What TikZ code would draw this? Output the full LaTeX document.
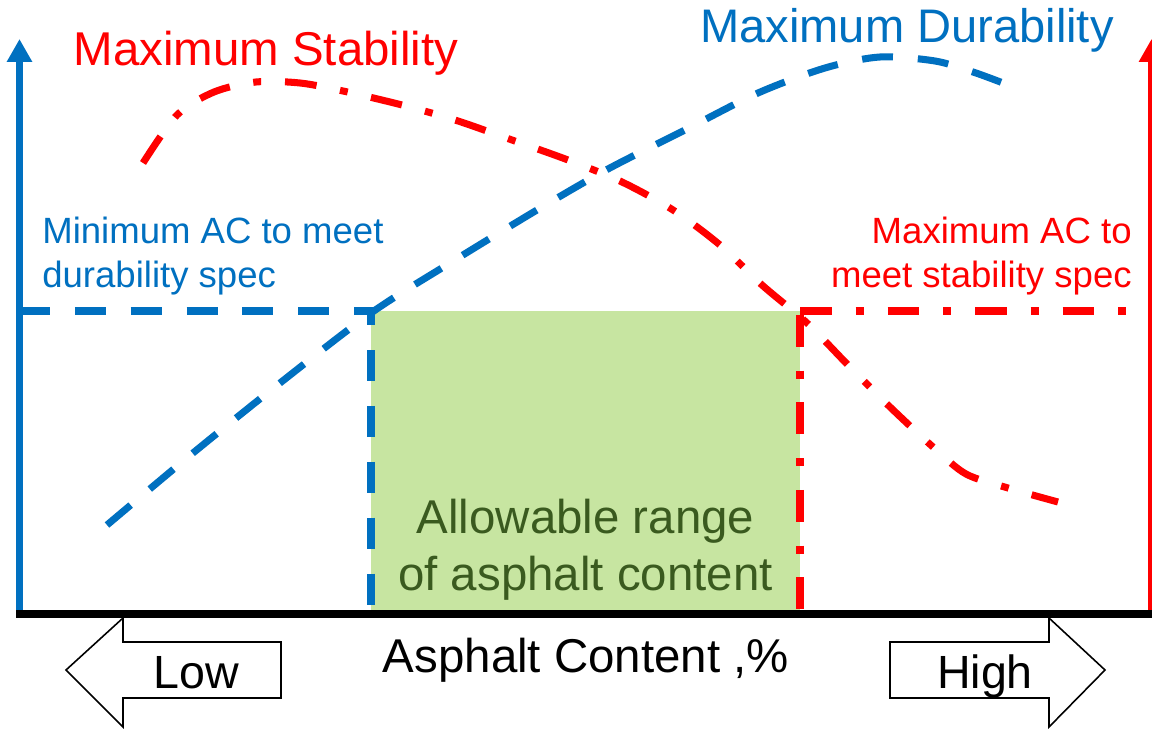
\documentclass[tikz,border=0pt]{standalone}
\usepackage{fontspec}
\setmainfont{Liberation Sans}
\usetikzlibrary{arrows.meta}
\definecolor{myblue}{HTML}{0070C0}
\definecolor{myred}{HTML}{FF0000}
\definecolor{rangefill}{HTML}{C7E5A1}
\definecolor{rangetext}{HTML}{3A5A1F}
\tikzset{
  bluedash/.style={draw=myblue, line width=4pt, dash pattern=on 17.6pt off 14.2pt},
  reddashdot/.style={draw=myred, line width=4pt, dash pattern=on 18.1pt off 13.6pt on 4.5pt off 13.6pt},
  axisline/.style={line width=4pt},
  bigtext/.style={inner sep=0pt, font=\fontsize{27}{32.3}\selectfont},
  smalltext/.style={inner sep=0pt, font=\fontsize{20.8}{25.5}\selectfont},
  boxarrow/.style={draw=black, line width=0.9pt, fill=white, line join=miter},
}
\begin{document}
\begin{tikzpicture}[x=0.02cm,y=-0.02cm]
\useasboundingbox (0,0) rectangle (1152,729);
\clip (0,0) rectangle (1152,729);
\fill[white] (0,0) rectangle (1152,729);

% allowable range
\fill[rangefill] (371,311) rectangle (800,612);
\node[bigtext, text=rangetext, align=center, anchor=base] (range) at (585.5,590)
  {Allowable range\\of asphalt content};

% spec lines
\draw[bluedash] (19,311) -- (371,311) -- (371,614);
\draw[reddashdot] (800,311) -- (1130,311);
\draw[reddashdot] (800,315) -- (800,614);

% curves
\draw[bluedash] plot[smooth] coordinates {(107,525) (193,453) (280,383) (371,313) (450,263) (537,210) (608,169) (685,130) (758,93) (825,68) (880,57) (935,61) (973,72) (1003,83)};
\draw[reddashdot] plot[smooth] coordinates {(143,163) (177,115) (214,92) (256,82) (300,83) (343,91) (402,105) (455,120) (512,140) (568,160) (622,182) (673,210) (720,245) (762,285) (807,323) (848,365) (890,407) (933,447) (966,474) (1008,488) (1058,502)};

% axes
\coordinate (origin) at (19.5,614);
\coordinate (ytop) at (19.5,39);
\coordinate (xend) at (1152,614);
\coordinate (rbot) at (1151.5,614);
\coordinate (rtop) at (1151.5,39);
\draw[axisline, myblue, -{Triangle[length=13pt,width=13.6pt]}] (origin) -- (ytop);
\draw[axisline, myred, -{Triangle[length=13pt,width=13.6pt]}] (rbot) -- (rtop);
\draw[line width=4.5pt, black] (16,614) -- (xend);

% labels
\node[bigtext, text=myred, anchor=base] (stab) at (266,66) {Maximum Stability};
\node[bigtext, text=myblue, anchor=base, font=\fontsize{26.8}{32}\selectfont] (dur) at (907,43) {Maximum Durability};
\node[smalltext, text=myblue, anchor=base west, align=left] (minac) at (42,288) {Minimum AC to meet\\durability spec};
\node[smalltext, text=myred, anchor=base east, align=right] (maxac) at (1132,288) {Maximum AC to\\meet stability spec};
\node[bigtext, anchor=base] (xlabel) at (586,672) {Asphalt Content ,\%};

% low / high arrows
\draw[boxarrow] (281,642) -- (123,642) -- (123,618) -- (66,670) -- (123,727) -- (123,698) -- (281,698) -- cycle;
\node[bigtext, anchor=base, font=\fontsize{26.5}{32}\selectfont] (low) at (196,688) {Low};
\draw[boxarrow] (890,642) -- (1049,642) -- (1049,618) -- (1105,670) -- (1049,727) -- (1049,698) -- (890,698) -- cycle;
\node[bigtext, anchor=base, font=\fontsize{26.5}{32}\selectfont] (high) at (985,688) {High};
\end{tikzpicture}
\end{document}
